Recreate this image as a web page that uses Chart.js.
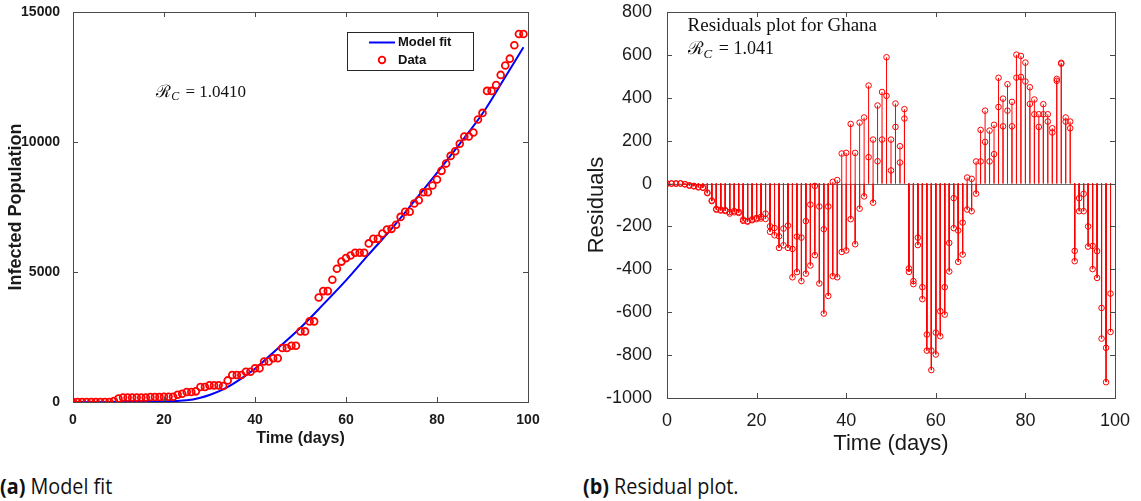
<!DOCTYPE html>
<html>
<head>
<meta charset="utf-8">
<title>Model fit and residuals</title>
<script src="https://cdn.jsdelivr.net/npm/chart.js@4.4.1/dist/chart.umd.min.js"></script>
<style>
    body { margin: 0; background: #fff; width: 1141px; height: 501px; position: relative; overflow: hidden; }
    #fitChart { position: absolute; left: 0; top: 0; }
    #resChart { position: absolute; left: 575px; top: 0; }
    .caption {
        position: absolute; top: 471px; font-family: 'Open Sans', 'Noto Sans', sans-serif;
        font-size: 22px; line-height: 28px; color: #111; white-space: nowrap;
        transform: scaleX(0.9); transform-origin: left center;
    }
    .caption b { font-weight: 700; }
</style>
</head>
<body>
<canvas id="fitChart" width="560" height="450"></canvas>
<canvas id="resChart" width="566" height="458"></canvas>
<div class="caption" style="left:0"><b>(a)</b> Model fit</div>
<div class="caption" style="left:583px"><b>(b)</b> Residual plot.</div>
<script>
// ---- data ----
const days = Array.from({ length: 100 }, (_, i) => i);

// infected population (red circles, left panel)
const infected = [
    0, 0, 0, 0, 0, 0, 0, 0, 0, 40,
    130, 170, 170, 170, 170, 170, 170, 190, 190, 190,
    200, 200, 200, 280, 320, 385, 385, 410, 575, 575,
    640, 640, 640, 615, 830, 1040, 1040, 1040, 1165, 1165,
    1295, 1295, 1560, 1560, 1680, 1680, 2075, 2075, 2165, 2165,
    2715, 2715, 3100, 3100, 4020, 4265, 4265, 4700, 5125, 5400,
    5535, 5635, 5740, 5740, 5740, 6100, 6275, 6275, 6480, 6635,
    6660, 6815, 7120, 7315, 7315, 7635, 7760, 8070, 8070, 8325,
    8555, 8890, 9170, 9465, 9645, 9930, 10210, 10210, 10365, 10865,
    11120, 11965, 11965, 12195, 12580, 12940, 13205, 13720, 14155, 14155,
];

// model fit curve (blue line), read at these days
const fitDays = [0, 5, 10, 15, 20, 22, 25, 28, 30, 33, 35, 38, 40, 45, 50, 55, 60, 65, 70, 75, 80, 85, 90, 95, 99];
const fitValues = [0, 0, 2, 5, 20, 35, 64, 167, 269, 487, 679, 1025, 1281, 2062, 2857, 3753, 4676, 5675, 6661, 7725, 8813, 9928, 11094, 12500, 13643];

// residuals: two values are plotted at each day (upper and lower circle)
const residUpper = [
    0, 0, 0, 1, -3, -8, -11, -15, -18, -42,
    -79, -118, -122, -124, -133, -128, -132, -168, -174, -167,
    -160, -155, -140, -199, -207, -246, -210, -196, -305, -247,
    -252, -175, -98, -11, -107, -213, -107, 8, 16, 140,
    143, 278, 143, 284, 308, 457, 205, 364, 427, 589,
    205, 373, 174, 347, -396, -455, -252, -483, -704, -779,
    -695, -595, -483, -277, -68, -219, -182, 28, 22, 103,
    250, 340, 247, 274, 493, 396, 463, 381, 601, 595,
    564, 449, 392, 323, 370, 323, 258, 488, 563, 308,
    289, -314, -68, -48, -200, -291, -315, -580, -766, -513,
];
const residLower = [
    0, 0, 0, 0, -4, -10, -13, -18, -20, -45,
    -82, -122, -126, -128, -140, -134, -137, -174, -178, -171,
    -166, -163, -165, -225, -241, -300, -288, -300, -437, -413,
    -455, -420, -382, -334, -466, -606, -524, -432, -437, -319,
    -312, -166, -283, -117, -60, 123, -89, 104, 205, 409,
    61, 264, 98, 303, -412, -469, -287, -539, -779, -870,
    -797, -712, -611, -410, -208, -365, -331, -121, -129, -47,
    103, 194, 103, 137, 357, 267, 340, 267, 494, 497,
    476, 371, 323, 264, 323, 289, 238, 479, 559, 289,
    258, -362, -129, -129, -294, -399, -440, -723, -926, -692,
];

const xTicks = { min: 0, max: 100, step: 20 };
const fitYTicks = { min: 0, max: 15000, step: 5000 };
const resYTicks = { min: -1000, max: 800, step: 200 };

const RED = '#ff0000';
const BLUE = '#0000ff';
const AXIS = '#4a4a4a';

// ---- helpers ----
const sansFont = "'Liberation Sans', Arial, sans-serif";
const serifFont = "'Liberation Serif', 'DejaVu Serif', serif";

const plainNumber = (v) => String(v);

// MATLAB-like box with inward ticks on all four sides
const boxPlugin = {
    id: 'matlabBox',
    afterDraw(chart) {
        const { ctx, chartArea: a, scales } = chart;
        ctx.save();
        ctx.strokeStyle = AXIS;
        ctx.lineWidth = 1;
        ctx.strokeRect(a.left + 0.5, a.top + 0.5, a.right - a.left, a.bottom - a.top);
        const len = 5;
        ctx.beginPath();
        scales.x.ticks.forEach((t) => {
            const px = Math.round(scales.x.getPixelForValue(t.value)) + 0.5;
            ctx.moveTo(px, a.bottom); ctx.lineTo(px, a.bottom - len);
            ctx.moveTo(px, a.top); ctx.lineTo(px, a.top + len);
        });
        scales.y.ticks.forEach((t) => {
            const py = Math.round(scales.y.getPixelForValue(t.value)) + 0.5;
            ctx.moveTo(a.left, py); ctx.lineTo(a.left + len, py);
            ctx.moveTo(a.right, py); ctx.lineTo(a.right - len, py);
        });
        ctx.stroke();
        ctx.restore();
    },
};

// grey stem baseline at y = 0
const baselinePlugin = {
    id: 'stemBaseline',
    beforeDatasetsDraw(chart, args, opts) {
        if (!opts.show) return;
        const { ctx, chartArea: a, scales } = chart;
        const py = Math.round(scales.y.getPixelForValue(0)) + 0.5;
        ctx.save();
        ctx.strokeStyle = '#6e6e6e';
        ctx.lineWidth = 1.2;
        ctx.beginPath();
        ctx.moveTo(a.left, py);
        ctx.lineTo(a.right, py);
        ctx.stroke();
        ctx.restore();
    },
};

// "R_C = value" text, calligraphic R with subscript C
function drawRc(ctx, x, y, size, value) {
    ctx.font = `${size}px ${serifFont}`;
    ctx.fillText('\u211B', x, y);
    let cx = x + ctx.measureText('\u211B').width;
    ctx.font = `italic ${Math.round(size * 0.7)}px ${serifFont}`;
    ctx.fillText('C', cx, y + size * 0.25);
    cx += ctx.measureText('C').width + 2;
    ctx.font = `${size}px ${serifFont}`;
    ctx.fillText(' = ' + value, cx, y);
}

const notesPlugin = {
    id: 'notes',
    afterDatasetsDraw(chart, args, opts) {
        if (!opts.items) return;
        const { ctx, scales } = chart;
        ctx.save();
        ctx.fillStyle = '#111';
        ctx.textBaseline = 'middle';
        ctx.textAlign = 'left';
        opts.items.forEach((n) => {
            const px = scales.x.getPixelForValue(n.x);
            const py = scales.y.getPixelForValue(n.y);
            if (n.rc) {
                drawRc(ctx, px, py, n.size, n.rc);
            } else {
                ctx.font = `${n.size}px ${serifFont}`;
                ctx.fillText(n.text, px, py);
            }
        });
        ctx.restore();
    },
};

const fitLegendPlugin = {
    id: 'fitLegend',
    afterDraw(chart, args, opts) {
        if (!opts.show) return;
        const { ctx, chartArea: a } = chart;
        const left = a.right - 181;
        const top = a.top + 20;
        ctx.save();
        ctx.fillStyle = '#fff';
        ctx.fillRect(left, top, 126, 38);
        ctx.strokeStyle = '#262626';
        ctx.lineWidth = 1;
        ctx.strokeRect(left + 0.5, top + 0.5, 126, 38);
        ctx.strokeStyle = BLUE;
        ctx.lineWidth = 2;
        ctx.beginPath();
        ctx.moveTo(left + 22, top + 10.5);
        ctx.lineTo(left + 48, top + 10.5);
        ctx.stroke();
        ctx.strokeStyle = RED;
        ctx.lineWidth = 1.8;
        ctx.beginPath();
        ctx.arc(left + 35, top + 28, 3.3, 0, Math.PI * 2);
        ctx.stroke();
        ctx.fillStyle = '#111';
        ctx.font = `bold 13px ${sansFont}`;
        ctx.textBaseline = 'middle';
        ctx.fillText('Model fit', left + 51, top + 10.5);
        ctx.fillText('Data', left + 51, top + 28);
        ctx.restore();
    },
};

function xScale(fontSpec, titleSpec, height, pad) {
    return {
        type: 'linear',
        min: xTicks.min,
        max: xTicks.max,
        grid: { display: false },
        border: { display: false },
        ticks: { stepSize: xTicks.step, color: '#1a1a1a', font: fontSpec, padding: pad, maxRotation: 0, callback: plainNumber },
        title: titleSpec,
        afterFit(s) {
            s.height = height;
            s.paddingLeft = 0;
            s.paddingRight = 0;
        },
    };
}

// ---- left panel: model fit ----
new Chart(document.getElementById('fitChart').getContext('2d'), {
    type: 'scatter',
    data: {
        datasets: [
            {
                label: 'Data',
                order: 0,
                data: days.map((d, i) => ({ x: d, y: infected[i] })),
                showLine: false,
                pointRadius: 3.4,
                pointBorderWidth: 1.8,
                pointBorderColor: RED,
                pointBackgroundColor: 'rgba(0,0,0,0)',
            },
            {
                label: 'Model fit',
                order: 1,
                data: fitDays.map((d, i) => ({ x: d, y: fitValues[i] })),
                showLine: true,
                cubicInterpolationMode: 'monotone',
                borderColor: BLUE,
                borderWidth: 2,
                pointRadius: 0,
            },
        ],
    },
    options: {
        responsive: false,
        animation: false,
        layout: { padding: { top: 12, right: 32, left: 0, bottom: 0 } },
        plugins: {
            legend: { display: false },
            tooltip: { enabled: false },
            fitLegend: { show: true },
            notes: { items: [{ x: 18.3, y: 11900, size: 17, rc: '1.0410' }] },
        },
        scales: {
            x: xScale(
                { family: sansFont, size: 14, weight: 'bold' },
                { display: true, text: 'Time (days)', color: '#1a1a1a', font: { family: sansFont, size: 16, weight: 'bold' }, padding: { top: 0, bottom: 2 } },
                48,
                2
            ),
            y: {
                min: fitYTicks.min,
                max: fitYTicks.max,
                grid: { display: false },
                border: { display: false },
                ticks: { stepSize: fitYTicks.step, color: '#1a1a1a', font: { family: sansFont, size: 14, weight: 'bold' }, padding: 5, callback: plainNumber },
                title: { display: true, text: 'Infected Population', color: '#1a1a1a', font: { family: sansFont, size: 18, weight: 'bold' }, padding: { top: 5, bottom: 0 } },
                afterFit(s) {
                    s.width = 73;
                    s.paddingTop = 0;
                    s.paddingBottom = 0;
                },
            },
        },
    },
    plugins: [boxPlugin, fitLegendPlugin, notesPlugin],
});

// ---- right panel: residual stems ----
const stemPoints = [];
const markerPoints = [];
days.forEach((d, i) => {
    [residUpper[i], residLower[i]].forEach((v) => {
        stemPoints.push({ x: d, y: 0 }, { x: d, y: v }, { x: d, y: null });
        markerPoints.push({ x: d, y: v });
    });
});

new Chart(document.getElementById('resChart').getContext('2d'), {
    type: 'scatter',
    data: {
        datasets: [
            {
                label: 'markers',
                order: 0,
                data: markerPoints,
                showLine: false,
                pointRadius: 2.8,
                pointBorderWidth: 1,
                pointBorderColor: RED,
                pointBackgroundColor: 'rgba(0,0,0,0)',
            },
            {
                label: 'stems',
                order: 1,
                data: stemPoints,
                showLine: true,
                spanGaps: false,
                borderColor: RED,
                borderWidth: 1,
                pointRadius: 0,
            },
        ],
    },
    options: {
        responsive: false,
        animation: false,
        layout: { padding: { top: 12, right: 26, left: 0, bottom: 0 } },
        plugins: {
            legend: { display: false },
            tooltip: { enabled: false },
            stemBaseline: { show: true },
            notes: {
                items: [
                    { x: 4.6, y: 733, size: 19, text: 'Residuals plot for Ghana' },
                    { x: 4.6, y: 624, size: 18, rc: '1.041' },
                ],
            },
        },
        scales: {
            x: xScale(
                { family: sansFont, size: 18 },
                { display: true, text: 'Time (days)', color: '#1a1a1a', font: { family: sansFont, size: 22 }, padding: { top: 0, bottom: 1 } },
                60,
                4
            ),
            y: {
                min: resYTicks.min,
                max: resYTicks.max,
                grid: { display: false },
                border: { display: false },
                ticks: { stepSize: resYTicks.step, color: '#1a1a1a', font: { family: sansFont, size: 18 }, padding: 7, callback: plainNumber },
                title: { display: true, text: 'Residuals', color: '#1a1a1a', font: { family: sansFont, size: 22 }, padding: { top: 9, bottom: 0 } },
                afterFit(s) {
                    s.width = 92;
                    s.paddingTop = 0;
                    s.paddingBottom = 0;
                },
            },
        },
    },
    plugins: [boxPlugin, baselinePlugin, notesPlugin],
});
</script>
</body>
</html>
